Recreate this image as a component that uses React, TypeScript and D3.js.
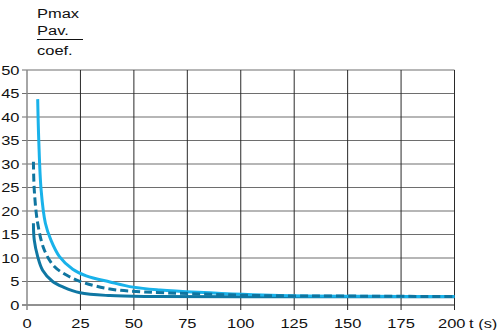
import React from "react";
import * as d3 from "d3";

const xTicks = [0, 25, 50, 75, 100, 125, 150, 175, 200];
const yTicks = [0, 5, 10, 15, 20, 25, 30, 35, 40, 45, 50];

// light blue solid curve
const tLight = [5, 5.5, 6.6, 8.6, 11.2, 15.2, 21.4, 27.7, 38.8, 49.7, 62.2, 80, 118, 160, 200];
const vLight = [43.8, 35.1, 24.5, 17.4, 13.8, 10.3, 7.6, 6.2, 4.9, 3.8, 3.2, 2.7, 2.0, 1.85, 1.8];

// dark dashed curve
const tDash = [3.0, 3.4, 5.0, 8.1, 12.8, 19.9, 26.9, 38.8, 54.4, 77.8, 110, 150, 200];
const vDash = [30.5, 24.5, 17.4, 11.7, 8.2, 6.0, 4.7, 3.4, 2.8, 2.4, 2.0, 1.9, 1.8];

// dark solid curve
const tDark = [3.0, 3.4, 5.0, 7.3, 12, 17, 24.8, 38.8, 60, 100, 200];
const vDark = [17.4, 13.8, 10.3, 7.4, 5.0, 3.8, 2.6, 2.0, 1.8, 1.75, 1.75];

const W = 502, H = 330;
const FONT = "'Liberation Sans', Arial, sans-serif";
const SX = 1.22;

export default function App() {
  const x = d3.scaleLinear().domain([0, 200]).range([27, 454.5]);
  const y = d3.scaleLinear().domain([0, 50]).range([305, 70]);
  const line = d3
    .line<[number, number]>()
    .x((d) => x(d[0]))
    .y((d) => y(d[1]))
    .curve(d3.curveCatmullRom.alpha(0.5));
  const zip = (t: number[], v: number[]) => t.map((d, i) => [d, v[i]] as [number, number]);

  const txt = (s: string, tx: number, ty: number, anchor: string, key?: string) => (
    <text
      key={key}
      transform={`translate(${tx},${ty}) scale(${SX},1)`}
      textAnchor={anchor}
      fontSize={13.5}
      fontFamily={FONT}
      fill="#111"
    >
      {s}
    </text>
  );

  return (
    <svg width={W} height={H} style={{ position: "absolute", left: 0, top: 0, background: "#fff" }}>
      {/* horizontal grid */}
      {yTicks.map((v) => (
        <line key={"h" + v} x1={22} x2={x(200)} y1={y(v)} y2={y(v)} stroke={v === 0 ? "#222" : "#6e6e6e"} strokeWidth={v === 0 ? 1 : 1.2} />
      ))}
      {/* vertical grid */}
      {xTicks.map((v) => (
        <line key={"v" + v} x1={x(v)} x2={x(v)} y1={y(50)} y2={y(0) + 5} stroke={v === 0 ? "#888" : "#2a2a2a"} strokeWidth={v === 0 ? 1.5 : 1} />
      ))}
      {/* y tick labels */}
      {yTicks.map((v) => txt(String(v), 19.5, y(v) + 4.8, "end", "yl" + v))}
      {/* x tick labels */}
      {xTicks.map((v) =>
        v === 200 ? txt(String(v), x(v) + 11, 327.5, "end", "xl" + v) : txt(String(v), x(v), 327.5, "middle", "xl" + v)
      )}
      {txt("t (s)", 469, 327.5, "start", "unit")}
      {/* y label */}
      {txt("Pmax", 37, 18, "start", "pmax")}
      {txt("Pav.", 37, 35, "start", "pav")}
      <line x1={37} x2={83} y1={39.5} y2={39.5} stroke="#111" strokeWidth={1} />
      {txt("coef.", 37, 55, "start", "coef")}
      {/* curves */}
      <path d={line(zip(tDark, vDark)) || ""} fill="none" stroke="#0f77a3" strokeWidth={3} />
      <path d={line(zip(tLight, vLight)) || ""} fill="none" stroke="#19b2ea" strokeWidth={3} />
      <path d={line(zip(tDash, vDash)) || ""} fill="none" stroke="#0f75a0" strokeWidth={3} strokeDasharray="8,4" />
    </svg>
  );
}
